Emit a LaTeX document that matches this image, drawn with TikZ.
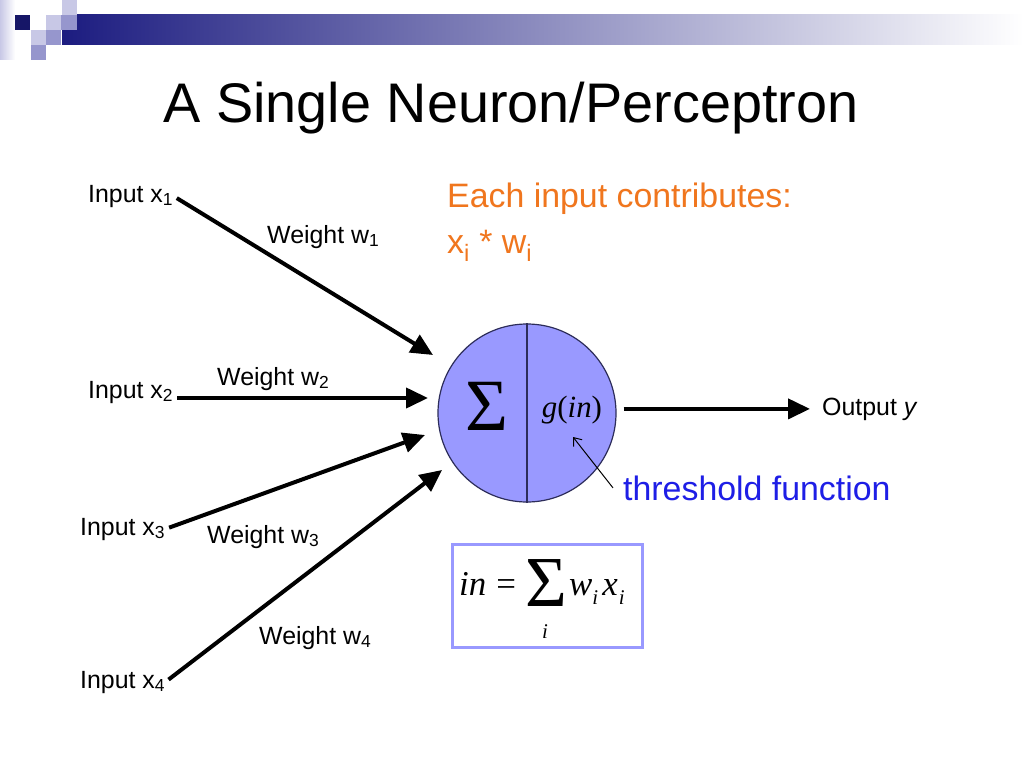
\documentclass[tikz,border=0pt]{standalone}
\usepackage{fontspec}
\setmainfont{Liberation Sans}
\newfontfamily\timesfont{Liberation Serif}
\usetikzlibrary{arrows.meta}

\definecolor{neuronblue}{RGB}{153,153,255}
\definecolor{edgenavy}{RGB}{45,45,90}
\definecolor{barnavy}{RGB}{28,28,128}
\definecolor{barmid}{RGB}{140,140,175}
\definecolor{sqlight}{RGB}{200,200,230}
\definecolor{sqmid}{RGB}{150,150,205}
\definecolor{contribcol}{RGB}{240,118,30}
\definecolor{threshcol}{RGB}{30,30,230}

\def\neuronsize{178bp}
\def\eqsub{\raisebox{-9bp}{\fontsize{21}{21}\selectfont i}}

\begin{document}
\begin{tikzpicture}[x=1bp,y=-1bp]
	\tikzstyle{every node}=[inner sep=0pt]
	\tikzstyle{input label}=[anchor=base west,font=\fontsize{25}{30}\selectfont]
	\tikzstyle{weight label}=[input label]
	\tikzstyle{neuron}=[circle,minimum size=\neuronsize,fill=neuronblue,draw=edgenavy,line width=1.2bp]
	\tikzstyle{conn}=[line width=4bp,-{Triangle[length=22bp,width=20bp]},shorten <=4bp]
	\tikzstyle{leader}=[line width=1bp,-{Straight Barb[length=7bp,width=11bp]}]
	\tikzstyle{eqtext}=[anchor=base west,font=\timesfont\itshape\fontsize{35}{35}\selectfont]

	% Slide background and the corner decoration
	\fill[white] (0,0) rectangle (1024,768);
	\useasboundingbox (0,0) rectangle (1024,768);
	\shade[left color=sqlight,right color=white] (0,0) rectangle (15,60);
	\shade[left color=barnavy,middle color=barmid,right color=white] (62,15) rectangle (1024,45);
	\fill[sqlight] (62,0) rectangle (77,15);
	\fill[barnavy!80!black] (15,15) rectangle (30,30);
	\fill[sqlight] (46,15) rectangle (61,30);
	\fill[sqmid] (61,15) rectangle (77,30);
	\fill[sqlight] (31,30) rectangle (46,45);
	\fill[sqmid] (46,30) rectangle (61,45);
	\fill[sqmid] (31,45) rectangle (46,60);

	% Title
	\node[anchor=base,font=\fontsize{56}{60}\selectfont] (title) at (511,122) {A Single Neuron/Perceptron};

	% Inputs and weights
	\node[input label] (I-1) at (88,202) {Input x\textsubscript{1}};
	\node[input label] (I-2) at (88,398) {Input x\textsubscript{2}};
	\node[input label] (I-3) at (80,535) {Input x\textsubscript{3}};
	\node[input label] (I-4) at (80,688) {Input x\textsubscript{4}};
	\node[weight label] (W-1) at (267,243) {Weight w\textsubscript{1}};
	\node[weight label] (W-2) at (217,385) {Weight w\textsubscript{2}};
	\node[weight label] (W-3) at (207,543) {Weight w\textsubscript{3}};
	\node[weight label] (W-4) at (259,644) {Weight w\textsubscript{4}};

	% The neuron
	\node[neuron] (neuron) at (527,413) {};
	\draw[edgenavy,line width=1.2bp] (neuron.north) -- (neuron.south);
	\node[font=\timesfont\fontsize{74}{74}\selectfont] (sum) at (487,406) {Σ};
	\node[font=\timesfont\fontsize{31}{31}\selectfont] (gin) at (572,410) {\textit{g}(\textit{in})};

	% Arrow tips in front of the neuron
	\coordinate (T-1) at (433,355);
	\coordinate (T-2) at (428,398);
	\coordinate (T-3) at (425,435);
	\coordinate (T-4) at (442,470);
	\coordinate (gtip) at (573,437);

	% Connect every input to the neuron
	\foreach \i/\a in {1/east,2/base east,3/east,4/east}
	\draw[conn] (I-\i.\a) -- (T-\i);

	% Output
	\node[input label] (out) at (822,415) {Output \textit{y}};
	\draw[conn,shorten <=7bp,shorten >=12bp] (neuron.east |- out.west) -- (out.west);

	% Annotations
	\node[anchor=base west,align=left,text=contribcol,font=\fontsize{34}{46}\selectfont] (contrib) at (447,253)
		{Each input contributes:\\x\textsubscript{i} * w\textsubscript{i}};
	\node[anchor=base west,text=threshcol,font=\fontsize{34}{40}\selectfont] (thr) at (623,500) {threshold function};
	\draw[leader] ([xshift=-10bp]thr.west) -- (gtip);

	% Weighted sum
	\node[draw=neuronblue,line width=3bp,minimum width=190bp,minimum height=103bp] (eq) at (547,596) {};
	\node[eqtext] (eq-in) at (459,595) {in\hspace{10bp}\upshape=};
	\node[font=\timesfont\fontsize{72}{72}\selectfont] (eq-sum) at (546,583) {Σ};
	\node[font=\timesfont\itshape\fontsize{21}{21}\selectfont] (eq-idx) at (545,632) {i};
	\node[eqtext] (eq-wx) at (569,595) {w\eqsub\hspace{4bp}x\hspace{1bp}\eqsub};
\end{tikzpicture}
\end{document}
